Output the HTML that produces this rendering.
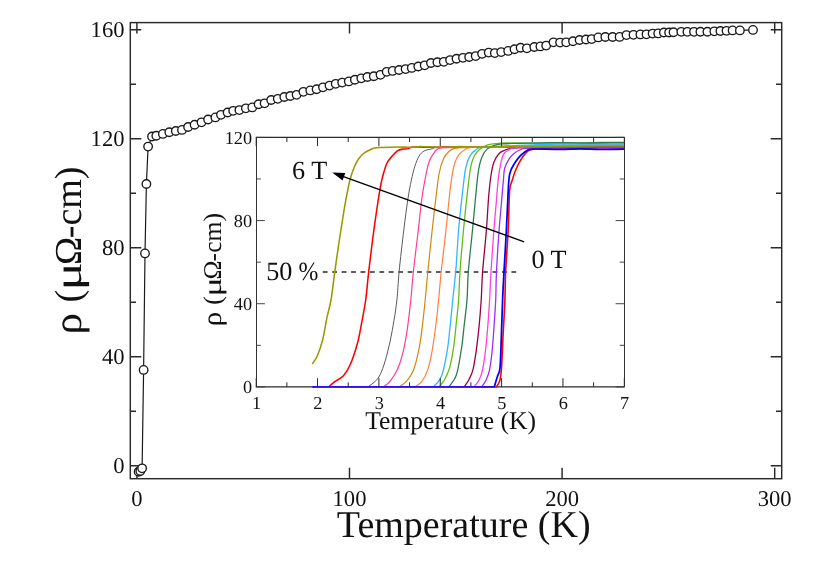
<!DOCTYPE html>
<html><head><meta charset="utf-8"><title>Resistivity vs Temperature</title>
<style>html,body{margin:0;padding:0;background:#fff;}body{width:830px;height:575px;overflow:hidden;font-family:"Liberation Serif",serif;}svg{display:block;will-change:transform;}text{font-family:"Liberation Serif",serif;fill:#111;text-rendering:geometricPrecision;}</style></head><body>
<svg width="830" height="575" viewBox="0 0 830 575">
<rect x="0" y="0" width="830" height="575" fill="#ffffff"/>
<g stroke="#2a2a2a" stroke-width="1.45" fill="none" stroke-linecap="butt">
<rect x="130.30" y="22.60" width="651.40" height="456.10"/>
<path d="M136.90 478.70V467.70M136.90 22.60V33.60"/>
<path d="M349.50 478.70V467.70M349.50 22.60V33.60"/>
<path d="M562.10 478.70V467.70M562.10 22.60V33.60"/>
<path d="M774.70 478.70V467.70M774.70 22.60V33.60"/>
<path d="M130.30 465.65H141.30M781.70 465.65H770.70"/>
<path d="M130.30 356.65H141.30M781.70 356.65H770.70"/>
<path d="M130.30 247.65H141.30M781.70 247.65H770.70"/>
<path d="M130.30 138.65H141.30M781.70 138.65H770.70"/>
<path d="M130.30 29.65H141.30M781.70 29.65H770.70"/>
<path d="M130.30 411.15H136.00M781.70 411.15H776.00"/>
<path d="M130.30 302.15H136.00M781.70 302.15H776.00"/>
<path d="M130.30 193.15H136.00M781.70 193.15H776.00"/>
<path d="M130.30 84.15H136.00M781.70 84.15H776.00"/>
</g>
<g font-size="22.6px">
<text x="136.90" y="505.7" text-anchor="middle">0</text>
<text x="349.50" y="505.7" text-anchor="middle">100</text>
<text x="562.10" y="505.7" text-anchor="middle">200</text>
<text x="774.70" y="505.7" text-anchor="middle">300</text>
<text x="124.5" y="473.05" text-anchor="end">0</text>
<text x="124.5" y="364.05" text-anchor="end">40</text>
<text x="124.5" y="255.05" text-anchor="end">80</text>
<text x="124.5" y="146.05" text-anchor="end">120</text>
<text x="124.5" y="37.05" text-anchor="end">160</text>
</g>
<text x="463.7" y="536.9" font-size="38px" text-anchor="middle">Temperature (K)</text>
<g transform="translate(81.30 330.45) rotate(-90)" font-size="38.00px">
<text transform="translate(-4.10 0) scale(1.13 1.05)">ρ</text>
<text x="27.96" y="0">(</text>
<text transform="translate(39.90 0) scale(1.4 1.0)">μ</text>
<text x="65.40" y="0">Ω</text>
<text x="92.20" y="0">-cm)</text>
</g>
<path d="M138.6 471.7 L140.3 471.0 L142.1 468.3 L143.6 369.9 L145.0 253.4 L146.4 184.0 L148.1 146.6 L152.0 136.5 L156.3 135.7 L162.9 133.9 L169.3 132.2 L175.8 131.0 L182.0 129.9 L188.1 127.0 L194.6 124.7 L201.5 122.3 L208.1 119.5 L215.4 117.4 L221.0 114.8 L227.6 112.5 L233.2 110.8 L239.4 110.1 L245.9 108.3 L252.3 107.4 L258.6 104.2 L264.6 103.3 L271.2 100.0 L277.8 98.8 L284.3 97.0 L290.3 96.0 L296.6 94.8 L303.4 91.8 L310.3 90.4 L316.6 89.2 L323.0 87.3 L329.5 85.6 L335.7 83.8 L342.2 82.6 L348.8 81.4 L354.9 79.7 L361.3 78.3 L367.4 77.0 L373.8 76.2 L380.5 74.8 L386.7 71.8 L392.7 70.9 L399.1 70.0 L405.6 69.1 L411.8 67.9 L418.3 66.5 L424.7 65.3 L431.0 63.0 L437.4 62.2 L443.8 61.8 L450.1 60.1 L456.5 58.7 L463.0 57.8 L469.2 57.0 L475.7 56.1 L482.1 53.8 L488.7 52.6 L494.8 53.1 L501.2 52.1 L508.2 50.9 L514.5 49.2 L520.6 47.7 L526.9 48.3 L534.3 47.0 L540.4 46.4 L546.2 45.6 L553.5 42.3 L560.1 42.6 L566.2 42.3 L573.0 41.2 L579.6 40.0 L586.0 39.5 L591.7 39.1 L598.3 37.4 L605.3 37.0 L612.6 37.0 L619.6 36.9 L626.5 35.1 L633.5 34.8 L640.4 34.4 L646.5 34.3 L652.6 33.6 L658.2 33.4 L663.9 32.5 L669.1 32.5 L673.5 32.2 L681.3 31.8 L687.4 31.8 L694.0 31.8 L700.4 31.7 L707.4 31.7 L714.3 31.3 L720.4 31.0 L726.5 30.8 L732.6 30.4 L739.9 30.4 L753.0 29.9" fill="none" stroke="#1a1a1a" stroke-width="1.2" stroke-linejoin="round"/>
<g fill="#ffffff" stroke="#1a1a1a" stroke-width="1.35">
<circle cx="138.6" cy="471.7" r="4.25"/>
<circle cx="140.3" cy="471.0" r="4.25"/>
<circle cx="142.1" cy="468.3" r="4.25"/>
<circle cx="143.6" cy="369.9" r="4.25"/>
<circle cx="145.0" cy="253.4" r="4.25"/>
<circle cx="146.4" cy="184.0" r="4.25"/>
<circle cx="148.1" cy="146.6" r="4.25"/>
<circle cx="152.0" cy="136.5" r="4.25"/>
<circle cx="156.3" cy="135.7" r="4.25"/>
<circle cx="162.9" cy="133.9" r="4.25"/>
<circle cx="169.3" cy="132.2" r="4.25"/>
<circle cx="175.8" cy="131.0" r="4.25"/>
<circle cx="182.0" cy="129.9" r="4.25"/>
<circle cx="188.1" cy="127.0" r="4.25"/>
<circle cx="194.6" cy="124.7" r="4.25"/>
<circle cx="201.5" cy="122.3" r="4.25"/>
<circle cx="208.1" cy="119.5" r="4.25"/>
<circle cx="215.4" cy="117.4" r="4.25"/>
<circle cx="221.0" cy="114.8" r="4.25"/>
<circle cx="227.6" cy="112.5" r="4.25"/>
<circle cx="233.2" cy="110.8" r="4.25"/>
<circle cx="239.4" cy="110.1" r="4.25"/>
<circle cx="245.9" cy="108.3" r="4.25"/>
<circle cx="252.3" cy="107.4" r="4.25"/>
<circle cx="258.6" cy="104.2" r="4.25"/>
<circle cx="264.6" cy="103.3" r="4.25"/>
<circle cx="271.2" cy="100.0" r="4.25"/>
<circle cx="277.8" cy="98.8" r="4.25"/>
<circle cx="284.3" cy="97.0" r="4.25"/>
<circle cx="290.3" cy="96.0" r="4.25"/>
<circle cx="296.6" cy="94.8" r="4.25"/>
<circle cx="303.4" cy="91.8" r="4.25"/>
<circle cx="310.3" cy="90.4" r="4.25"/>
<circle cx="316.6" cy="89.2" r="4.25"/>
<circle cx="323.0" cy="87.3" r="4.25"/>
<circle cx="329.5" cy="85.6" r="4.25"/>
<circle cx="335.7" cy="83.8" r="4.25"/>
<circle cx="342.2" cy="82.6" r="4.25"/>
<circle cx="348.8" cy="81.4" r="4.25"/>
<circle cx="354.9" cy="79.7" r="4.25"/>
<circle cx="361.3" cy="78.3" r="4.25"/>
<circle cx="367.4" cy="77.0" r="4.25"/>
<circle cx="373.8" cy="76.2" r="4.25"/>
<circle cx="380.5" cy="74.8" r="4.25"/>
<circle cx="386.7" cy="71.8" r="4.25"/>
<circle cx="392.7" cy="70.9" r="4.25"/>
<circle cx="399.1" cy="70.0" r="4.25"/>
<circle cx="405.6" cy="69.1" r="4.25"/>
<circle cx="411.8" cy="67.9" r="4.25"/>
<circle cx="418.3" cy="66.5" r="4.25"/>
<circle cx="424.7" cy="65.3" r="4.25"/>
<circle cx="431.0" cy="63.0" r="4.25"/>
<circle cx="437.4" cy="62.2" r="4.25"/>
<circle cx="443.8" cy="61.8" r="4.25"/>
<circle cx="450.1" cy="60.1" r="4.25"/>
<circle cx="456.5" cy="58.7" r="4.25"/>
<circle cx="463.0" cy="57.8" r="4.25"/>
<circle cx="469.2" cy="57.0" r="4.25"/>
<circle cx="475.7" cy="56.1" r="4.25"/>
<circle cx="482.1" cy="53.8" r="4.25"/>
<circle cx="488.7" cy="52.6" r="4.25"/>
<circle cx="494.8" cy="53.1" r="4.25"/>
<circle cx="501.2" cy="52.1" r="4.25"/>
<circle cx="508.2" cy="50.9" r="4.25"/>
<circle cx="514.5" cy="49.2" r="4.25"/>
<circle cx="520.6" cy="47.7" r="4.25"/>
<circle cx="526.9" cy="48.3" r="4.25"/>
<circle cx="534.3" cy="47.0" r="4.25"/>
<circle cx="540.4" cy="46.4" r="4.25"/>
<circle cx="546.2" cy="45.6" r="4.25"/>
<circle cx="553.5" cy="42.3" r="4.25"/>
<circle cx="560.1" cy="42.6" r="4.25"/>
<circle cx="566.2" cy="42.3" r="4.25"/>
<circle cx="573.0" cy="41.2" r="4.25"/>
<circle cx="579.6" cy="40.0" r="4.25"/>
<circle cx="586.0" cy="39.5" r="4.25"/>
<circle cx="591.7" cy="39.1" r="4.25"/>
<circle cx="598.3" cy="37.4" r="4.25"/>
<circle cx="605.3" cy="37.0" r="4.25"/>
<circle cx="612.6" cy="37.0" r="4.25"/>
<circle cx="619.6" cy="36.9" r="4.25"/>
<circle cx="626.5" cy="35.1" r="4.25"/>
<circle cx="633.5" cy="34.8" r="4.25"/>
<circle cx="640.4" cy="34.4" r="4.25"/>
<circle cx="646.5" cy="34.3" r="4.25"/>
<circle cx="652.6" cy="33.6" r="4.25"/>
<circle cx="658.2" cy="33.4" r="4.25"/>
<circle cx="663.9" cy="32.5" r="4.25"/>
<circle cx="669.1" cy="32.5" r="4.25"/>
<circle cx="673.5" cy="32.2" r="4.25"/>
<circle cx="681.3" cy="31.8" r="4.25"/>
<circle cx="687.4" cy="31.8" r="4.25"/>
<circle cx="694.0" cy="31.8" r="4.25"/>
<circle cx="700.4" cy="31.7" r="4.25"/>
<circle cx="707.4" cy="31.7" r="4.25"/>
<circle cx="714.3" cy="31.3" r="4.25"/>
<circle cx="720.4" cy="31.0" r="4.25"/>
<circle cx="726.5" cy="30.8" r="4.25"/>
<circle cx="732.6" cy="30.4" r="4.25"/>
<circle cx="739.9" cy="30.4" r="4.25"/>
<circle cx="753.0" cy="29.9" r="4.25"/>
</g>
<rect x="256.20" y="137.40" width="368.10" height="249.50" fill="#ffffff"/>
<g stroke="#2a2a2a" fill="none">
<path d="M255.80 137.40H624.70M255.80 386.90H624.70" stroke-width="1.3"/>
<path d="M256.50 137.40V386.90M624.50 137.40V386.90" stroke-width="1.0" stroke="#333"/>
</g>
<path d="M532.27 137.40V142.00M562.95 137.40V146.10M593.62 137.40V142.00M624.30 137.40V146.10" stroke="#2a2a2a" stroke-width="1.0" fill="none"/>
<path d="M322.8 272.0H516.8" stroke="#2a2a2a" stroke-width="1.55" stroke-dasharray="4.8 4.63" fill="none"/>
<g fill="none" stroke-linejoin="round" stroke-linecap="butt">
<path d="M312.2 386.85H497.0" stroke="#ff0000" stroke-width="1.15"/>
<path d="M496.5 386.9C497.0 385.9 498.9 383.8 499.7 380.9C500.5 378.0 500.8 377.3 501.4 369.6C502.0 361.9 502.5 346.4 503.1 334.8C503.7 323.2 504.5 310.5 504.9 300.0C505.3 289.5 505.1 283.5 505.6 271.8C506.2 260.1 507.5 243.5 508.2 230.0C508.9 216.5 508.9 199.2 509.6 190.9C510.3 182.6 511.2 183.9 512.2 180.4C513.2 176.9 514.2 173.5 515.7 170.0C517.2 166.5 519.2 162.5 520.9 159.6C522.6 156.7 524.4 154.3 526.1 152.6C527.8 150.9 528.7 150.2 531.3 149.5C533.9 148.8 536.9 148.7 541.7 148.6C546.5 148.6 553.6 148.9 560.0 148.9C566.4 148.9 573.3 148.4 580.0 148.4C586.7 148.4 592.7 148.9 600.0 149.0C607.3 149.0 620.0 148.8 624.0 148.7" stroke="#ff0000" stroke-width="1.60"/>
<path d="M312.2 386.85H329.2" stroke="#ff0000" stroke-width="1.15"/>
<path d="M328.7 386.9C329.7 386.0 332.3 383.6 334.8 381.7C337.3 379.8 340.9 378.6 343.5 375.7C346.1 372.8 348.1 369.7 350.4 364.3C352.7 358.9 355.5 350.4 357.4 343.5C359.3 336.6 360.3 329.9 361.7 322.6C363.1 315.4 364.5 308.5 365.7 300.0C366.9 291.5 367.3 283.5 368.7 271.8C370.1 260.1 372.0 243.8 373.9 230.0C375.8 216.2 378.4 198.5 380.0 189.1C381.6 179.7 382.3 177.8 383.5 173.5C384.7 169.2 385.6 165.9 387.0 163.0C388.4 160.1 390.5 158.1 392.2 156.1C393.9 154.1 395.7 152.1 397.4 150.9C399.1 149.7 400.9 149.4 402.6 149.1C404.3 148.8 406.1 149.1 407.8 148.8C409.5 148.4 409.3 147.2 413.0 146.9C416.7 146.9 420.5 147.3 430.0 147.3C439.5 147.3 455.0 146.8 470.0 146.8C485.0 146.8 503.3 147.2 520.0 147.2C536.7 147.2 552.7 147.0 570.0 147.0C587.3 147.0 615.0 147.0 624.0 147.0" stroke="#ff0000" stroke-width="1.55"/>
<path d="M312.2 386.85H368.3" stroke="#5a5a5a" stroke-width="1.00"/>
<path d="M367.8 386.9C369.0 386.0 372.8 383.7 374.8 381.7C376.8 379.7 378.3 378.3 380.0 374.8C381.7 371.3 383.5 366.7 385.2 360.9C386.9 355.1 388.9 346.7 390.4 340.0C391.8 333.3 392.8 327.6 393.9 320.9C395.0 314.2 396.0 308.2 396.9 300.0C397.8 291.8 398.0 283.5 399.1 271.8C400.2 260.1 402.4 242.0 403.8 230.0C405.2 218.0 406.6 207.9 407.8 199.6C409.1 191.3 410.1 185.9 411.3 180.4C412.5 174.9 413.5 170.6 414.8 166.5C416.1 162.4 417.5 158.7 419.1 156.1C420.7 153.5 422.1 152.1 424.3 150.9C426.5 149.7 429.6 149.4 432.2 148.8C434.8 148.2 432.2 147.7 440.0 147.4C448.0 147.1 463.3 147.0 480.0 146.8C496.7 146.6 516.0 146.3 540.0 146.2C564.0 146.1 610.0 146.0 624.0 146.0" stroke="#5a5a5a" stroke-width="1.00"/>
<path d="M312.2 386.85H384.0" stroke="#ff3d96" stroke-width="1.15"/>
<path d="M383.5 386.9C384.6 385.9 388.1 383.8 390.4 380.9C392.7 378.0 395.4 374.1 397.4 369.6C399.4 365.1 401.0 360.3 402.6 353.9C404.2 347.5 405.6 340.3 407.0 331.3C408.4 322.3 409.7 309.9 410.8 300.0C411.9 290.1 412.1 283.5 413.4 271.8C414.6 260.1 416.9 242.0 418.3 230.0C419.7 218.0 420.6 208.2 421.7 199.6C422.8 191.0 424.0 184.8 425.2 178.7C426.4 172.6 427.4 167.1 428.7 163.0C430.0 158.9 431.0 156.8 433.0 154.3C435.0 151.8 434.7 149.1 440.9 147.9C447.1 147.2 456.8 147.4 470.0 147.2C483.2 147.0 503.3 146.8 520.0 146.6C536.7 146.4 552.7 146.2 570.0 146.2C587.3 146.2 615.0 146.4 624.0 146.4" stroke="#ff3d96" stroke-width="1.20"/>
<path d="M312.2 386.85H399.6" stroke="#cc8a10" stroke-width="1.15"/>
<path d="M399.1 386.9C400.3 386.0 403.8 384.3 406.1 381.7C408.4 379.1 411.0 376.2 413.0 371.3C415.0 366.4 416.9 358.9 418.3 352.2C419.8 345.5 420.6 340.0 421.7 331.3C422.8 322.6 424.2 309.9 425.2 300.0C426.2 290.1 426.6 283.5 427.8 271.8C429.0 260.1 430.9 242.0 432.2 230.0C433.5 218.0 434.5 209.0 435.7 199.6C436.9 190.2 437.8 180.3 439.1 173.5C440.4 166.7 441.9 162.3 443.5 158.7C445.1 155.1 446.8 153.4 448.7 151.7C450.6 150.0 451.2 149.0 454.8 148.3C458.4 147.6 459.1 147.8 470.0 147.4C480.9 147.1 503.3 146.5 520.0 146.2C536.7 145.9 552.7 145.5 570.0 145.4C587.3 145.4 615.0 145.4 624.0 145.4" stroke="#cc8a10" stroke-width="1.20"/>
<path d="M312.2 386.85H415.3" stroke="#ff7f40" stroke-width="1.15"/>
<path d="M414.8 386.9C415.9 386.0 419.5 384.6 421.7 381.7C423.9 378.8 426.1 374.8 427.8 369.6C429.6 364.4 430.9 357.6 432.2 350.4C433.5 343.1 434.6 334.5 435.7 326.1C436.8 317.7 437.7 309.1 438.6 300.0C439.5 290.9 440.0 283.5 441.2 271.8C442.4 260.1 444.8 241.5 446.0 230.0C447.2 218.5 447.8 211.3 448.7 203.0C449.6 194.7 450.3 187.1 451.3 180.4C452.3 173.7 453.5 167.3 454.8 163.0C456.1 158.7 457.4 156.6 459.1 154.3C460.8 152.1 463.0 150.7 465.2 149.5C467.4 148.3 465.2 147.9 472.2 147.4C481.3 146.9 503.7 146.8 520.0 146.4C536.3 146.0 552.7 145.3 570.0 145.0C587.3 144.8 615.0 144.8 624.0 144.8" stroke="#ff7f40" stroke-width="1.20"/>
<path d="M312.2 386.85H433.5" stroke="#33b5ff" stroke-width="1.15"/>
<path d="M433.0 386.9C433.9 386.0 436.7 384.0 438.3 381.7C439.9 379.4 441.2 377.9 442.6 373.0C444.1 368.1 445.8 359.1 447.0 352.2C448.2 345.2 448.7 340.0 449.6 331.3C450.6 322.6 451.7 309.9 452.7 300.0C453.7 290.1 454.7 283.5 455.7 271.8C456.7 260.1 457.6 242.0 458.6 230.0C459.6 218.0 460.5 209.9 461.7 199.6C462.9 189.3 464.2 175.7 465.6 168.3C467.1 160.9 468.7 158.2 470.4 155.2C472.1 152.1 473.9 151.3 475.7 150.0C477.4 148.7 476.8 148.0 480.9 147.4C484.9 146.8 491.3 146.6 500.0 146.2C508.7 145.8 523.0 145.2 533.0 144.8C543.0 144.4 548.8 144.1 560.0 144.0C571.2 144.0 589.3 144.2 600.0 144.2C610.7 144.2 620.0 144.0 624.0 144.0" stroke="#33b5ff" stroke-width="1.30"/>
<path d="M312.2 386.85H439.6" stroke="#5fbf10" stroke-width="1.15"/>
<path d="M439.1 386.9C440.0 385.7 442.6 383.2 444.3 380.0C446.1 376.8 448.0 373.6 449.6 367.8C451.2 362.0 452.8 353.0 453.9 345.2C455.0 337.4 455.7 328.4 456.5 320.9C457.3 313.4 458.0 308.2 458.6 300.0C459.2 291.8 459.2 283.5 460.0 271.8C460.8 260.1 462.3 242.6 463.5 230.0C464.7 217.4 465.8 206.6 467.0 196.0C468.2 185.4 469.5 173.3 470.8 166.5C472.1 159.7 473.3 158.1 474.8 155.2C476.3 152.3 478.0 150.8 480.0 149.1C482.0 147.4 484.8 146.1 487.0 145.2C489.2 144.3 488.5 144.3 493.0 143.9C497.5 143.5 506.1 143.0 513.9 142.9C521.7 142.9 532.3 143.3 540.0 143.3C547.7 143.3 551.7 143.0 560.0 143.0C568.3 143.0 579.3 143.4 590.0 143.4C600.7 143.4 618.3 143.2 624.0 143.1" stroke="#5fbf10" stroke-width="1.30"/>
<path d="M312.2 386.85H449.2" stroke="#2e7d4f" stroke-width="1.15"/>
<path d="M448.7 386.9C449.6 385.7 452.4 382.6 453.9 380.0C455.3 377.4 456.1 376.8 457.4 371.3C458.7 365.8 460.5 354.8 461.7 347.0C462.9 339.2 463.4 332.1 464.3 324.3C465.2 316.5 466.3 308.8 467.0 300.0C467.7 291.2 467.4 283.5 468.3 271.8C469.2 260.1 471.3 242.6 472.5 230.0C473.7 217.4 474.7 205.7 475.7 196.0C476.7 186.3 477.3 178.1 478.3 171.7C479.3 165.3 480.2 161.6 481.7 157.8C483.1 154.0 484.8 151.2 487.0 149.1C489.2 147.0 492.4 146.1 494.8 145.2C497.2 144.3 497.5 144.1 501.7 143.8C505.9 143.5 511.9 143.5 520.0 143.3C528.0 143.1 540.0 142.7 550.0 142.6C560.0 142.6 570.0 142.8 580.0 142.8C590.0 142.8 602.7 142.4 610.0 142.3C617.3 142.3 621.7 142.5 624.0 142.5" stroke="#2e7d4f" stroke-width="1.30"/>
<path d="M312.2 386.85H464.8" stroke="#990040" stroke-width="1.15"/>
<path d="M464.3 386.9C465.0 385.7 467.2 382.9 468.7 380.0C470.1 377.1 471.7 374.8 473.0 369.6C474.3 364.4 475.5 355.9 476.5 348.7C477.5 341.4 478.3 334.2 479.1 326.1C479.9 318.0 480.6 309.1 481.2 300.0C481.8 290.9 481.7 283.5 482.6 271.8C483.5 260.1 485.4 242.6 486.4 230.0C487.4 217.4 487.9 205.4 488.7 196.0C489.5 186.6 490.4 179.1 491.3 173.5C492.2 167.9 492.6 165.5 493.9 162.2C495.2 158.9 497.2 155.5 499.1 153.5C501.0 151.5 503.0 150.9 505.2 150.0C507.4 149.1 508.1 148.7 512.2 148.3C516.3 147.9 520.4 147.6 530.0 147.4C539.6 147.2 554.3 147.1 570.0 147.0C585.7 146.9 615.0 146.8 624.0 146.8" stroke="#990040" stroke-width="1.30"/>
<path d="M312.2 386.85H474.4" stroke="#ff40e0" stroke-width="1.15"/>
<path d="M473.9 386.9C474.8 385.7 477.7 382.9 479.1 380.0C480.6 377.1 481.4 375.4 482.6 369.6C483.8 363.8 485.2 353.3 486.1 345.2C487.0 337.1 487.6 328.4 488.2 320.9C488.8 313.4 489.1 308.2 489.6 300.0C490.1 291.8 490.3 283.5 491.0 271.8C491.7 260.1 493.0 242.0 493.9 230.0C494.8 218.0 495.8 208.2 496.5 199.6C497.2 191.0 497.6 184.8 498.3 178.7C499.0 172.6 500.0 167.1 500.9 163.0C501.8 158.9 502.2 156.5 503.5 154.3C504.8 152.1 506.4 151.1 508.7 150.0C511.0 148.9 508.8 147.9 517.4 147.6C525.9 147.6 546.2 147.8 560.0 148.0C573.8 148.2 589.3 148.6 600.0 148.6C610.7 148.6 620.0 148.3 624.0 148.2" stroke="#ff40e0" stroke-width="1.30"/>
<path d="M312.2 386.85H482.2" stroke="#9a30ff" stroke-width="1.15"/>
<path d="M481.7 386.9C482.4 385.7 484.8 382.9 486.1 380.0C487.4 377.1 488.6 374.5 489.6 369.6C490.6 364.7 491.4 358.2 492.2 350.4C493.0 342.6 493.7 331.0 494.3 322.6C494.9 314.2 495.3 308.5 495.7 300.0C496.1 291.5 495.9 283.5 496.5 271.8C497.1 260.1 498.2 242.0 499.1 230.0C500.0 218.0 501.0 208.2 501.7 199.6C502.4 191.0 503.0 183.9 503.5 178.7C504.0 173.5 503.8 171.5 504.7 168.3C505.6 165.1 507.2 162.1 508.7 159.6C510.2 157.1 511.9 155.2 513.9 153.5C515.9 151.8 518.6 150.4 520.9 149.5C523.2 148.6 520.9 148.6 527.8 148.3C536.0 148.1 554.0 148.1 570.0 148.0C586.0 148.0 615.0 148.0 624.0 148.0" stroke="#9a30ff" stroke-width="1.30"/>
<path d="M312.2 386.85H494.8" stroke="#0000ff" stroke-width="1.15"/>
<path d="M494.3 386.9C494.8 385.1 496.4 379.7 497.4 376.5C498.3 373.3 499.3 374.8 500.0 367.8C500.7 360.9 501.0 346.1 501.4 334.8C501.8 323.5 502.2 310.5 502.6 300.0C503.0 289.5 503.4 283.5 504.0 271.8C504.6 260.1 505.8 242.0 506.4 230.0C507.0 218.0 507.3 208.9 507.8 199.6C508.3 190.3 508.4 180.4 509.6 174.3C510.8 168.2 512.9 166.2 514.8 163.0C516.7 159.8 518.7 157.4 520.9 155.2C523.1 153.0 525.5 151.0 527.8 150.0C530.1 149.0 529.4 149.1 534.8 149.0C540.2 149.0 552.5 149.3 560.0 149.3C567.5 149.3 573.3 148.9 580.0 148.9C586.7 148.9 592.7 149.4 600.0 149.5C607.3 149.5 620.0 149.2 624.0 149.2" stroke="#0000ff" stroke-width="1.75"/>
<path d="M312.2 364.0C313.1 362.6 315.7 359.7 317.4 355.7C319.1 351.7 321.0 346.4 322.6 340.0C324.2 333.6 325.6 324.1 327.0 317.4C328.4 310.7 329.7 307.6 331.0 300.0C332.3 292.4 333.2 283.5 334.8 271.8C336.4 260.1 339.0 242.0 340.9 230.0C342.8 218.0 344.3 208.2 345.9 199.6C347.5 191.0 348.9 184.2 350.3 178.7C351.7 173.2 353.1 169.8 354.5 166.5C355.9 163.2 357.2 160.9 358.7 158.7C360.2 156.5 361.7 154.9 363.5 153.5C365.3 152.1 367.4 151.0 369.6 150.0C371.8 149.0 371.9 148.2 376.5 147.7C381.1 147.2 391.8 147.0 397.4 146.9C403.0 146.9 406.2 147.3 410.0 147.3C413.8 147.2 415.0 146.5 420.0 146.5C425.0 146.5 433.3 147.2 440.0 147.2C446.7 147.2 453.3 146.6 460.0 146.6C466.7 146.6 470.0 147.0 480.0 147.0C490.0 147.0 506.7 146.7 520.0 146.6C533.3 146.5 546.7 146.4 560.0 146.3C573.3 146.2 589.3 146.1 600.0 146.0C610.7 146.0 620.0 146.0 624.0 146.0" stroke="#9a9a00" stroke-width="1.55"/>
</g>
<g stroke="#2a2a2a" fill="none">
<path d="M256.20 386.90V378.20M256.20 137.40V146.10M317.55 386.90V378.20M317.55 137.40V146.10M378.90 386.90V378.20M378.90 137.40V146.10M440.25 386.90V378.20M440.25 137.40V146.10M501.60 386.90V378.20M501.60 137.40V146.10M562.95 386.90V378.20M624.30 386.90V378.20M286.88 386.90V382.30M286.88 137.40V142.00M348.22 386.90V382.30M348.22 137.40V142.00M409.57 386.90V382.30M409.57 137.40V142.00M470.92 386.90V382.30M470.92 137.40V142.00M532.27 386.90V382.30M593.62 386.90V382.30" stroke-width="1.0"/>
<path d="M256.20 386.90H264.90M624.30 386.90H615.60M256.20 303.73H264.90M624.30 303.73H615.60M256.20 220.57H264.90M624.30 220.57H615.60M256.20 137.40H264.90M624.30 137.40H615.60M256.20 345.32H260.80M624.30 345.32H619.70M256.20 262.15H260.80M624.30 262.15H619.70M256.20 178.98H260.80M624.30 178.98H619.70" stroke-width="0.95" stroke="#3a3a3a"/>
</g>
<path d="M524.2 241.9L342.1 176.2" stroke="#000" stroke-width="1.3" fill="none"/>
<path d="M332.2 172.6L345.3 173.1L342.6 180.6Z" fill="#000"/>
<g font-size="18.3px">
<text x="256.50" y="408.5" text-anchor="middle">1</text>
<text x="317.85" y="408.5" text-anchor="middle">2</text>
<text x="379.20" y="408.5" text-anchor="middle">3</text>
<text x="440.55" y="408.5" text-anchor="middle">4</text>
<text x="501.90" y="408.5" text-anchor="middle">5</text>
<text x="563.25" y="408.5" text-anchor="middle">6</text>
<text x="624.60" y="408.5" text-anchor="middle">7</text>
<text x="252.1" y="393.40" text-anchor="end">0</text>
<text x="252.1" y="310.23" text-anchor="end">40</text>
<text x="252.1" y="227.07" text-anchor="end">80</text>
<text x="252.1" y="143.90" text-anchor="end">120</text>
</g>
<text x="450.6" y="429.2" font-size="25.6px" text-anchor="middle">Temperature (K)</text>
<g transform="translate(220.80 323.50) rotate(-90)" font-size="25.60px">
<text transform="translate(-2.76 0) scale(1.13 1.05)">ρ</text>
<text x="18.84" y="0">(</text>
<text transform="translate(26.88 0) scale(1.4 1.0)">μ</text>
<text x="44.06" y="0">Ω</text>
<text x="62.11" y="0">-cm)</text>
</g>
<text x="292" y="179.2" font-size="26.2px">6 T</text>
<text x="531.4" y="268.0" font-size="26.2px">0 T</text>
<text x="266.2" y="280.0" font-size="26.2px">50</text>
<text transform="translate(298.6 280.0) scale(0.91 1)" font-size="26.2px">%</text>
</svg></body></html>
